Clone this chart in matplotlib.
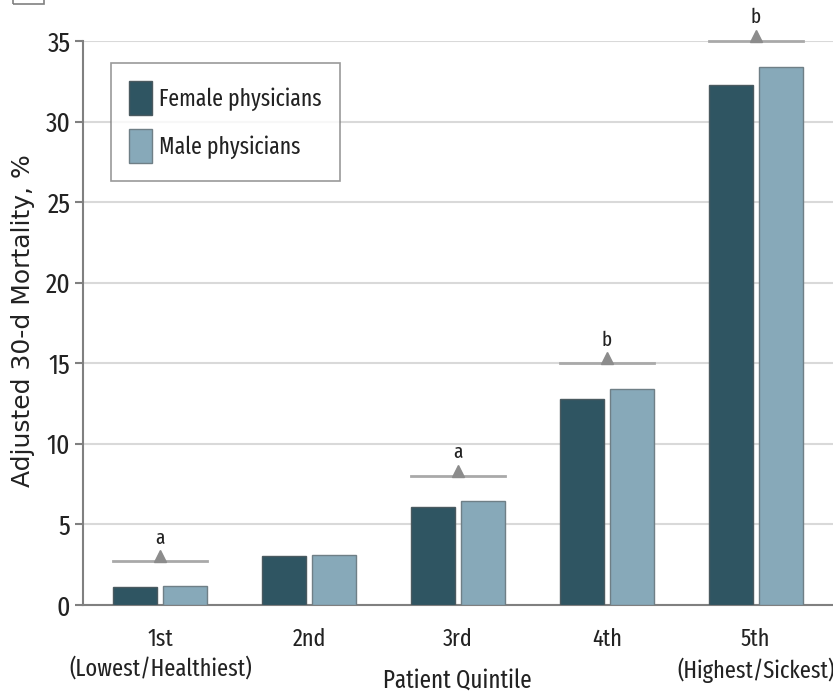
import matplotlib
matplotlib.use("Agg")
import matplotlib.pyplot as plt
import numpy as np
from matplotlib import font_manager
from matplotlib.patches import Rectangle

categories = ["1st\n(Lowest/Healthiest)", "2nd", "3rd", "4th", "5th\n(Highest/Sickest)"]
female = [1.12, 3.04, 6.1, 12.8, 32.3]
male = [1.2, 3.1, 6.45, 13.4, 33.4]
sig_levels = [2.7, None, 8.0, 15.0, 35.0]
sig_labels = ["a", None, "a", "b", "b"]
yticks = [0, 5, 10, 15, 20, 25, 30, 35]

available = {f.name for f in font_manager.fontManager.ttflist}
cond = "DejaVu Sans"
for cand in ["Fira Sans Extra Condensed", "Fira Sans Condensed", "Ubuntu Condensed", "Roboto Condensed",
             "Open Sans Condensed", "Barlow Semi Condensed", "Asap Condensed", "Archivo Narrow"]:
    if cand in available:
        cond = cand
        break
plt.rcParams['font.family'] = [cond, 'DejaVu Sans']

fig = plt.figure(figsize=(8.33, 6.95), dpi=100)
ax = fig.add_axes([0.0996, 0.1295, 0.9004, 0.8115])

x = np.arange(len(categories))
w = 0.295
off = 0.168
fc = "#2f5562"
mc = "#87a9b9"
ax.bar(x - off, female, w, color=fc, edgecolor="#4a5a60", linewidth=1.0, label="Female physicians", zorder=3)
ax.bar(x + off, male, w, color=mc, edgecolor="#6f7f86", linewidth=1.0, label="Male physicians", zorder=3)

for xi, lv, lb in zip(x, sig_levels, sig_labels):
    if lv is None:
        continue
    ax.plot([xi - off - w / 2, xi + off + w / 2], [lv, lv], color="#a9a9a9", lw=2, zorder=4, clip_on=False)
    ax.plot([xi], [lv + 0.33], marker="^", color="#8c8c8c", markersize=8, zorder=5, clip_on=False)
    ax.text(xi, lv + 0.85, lb, ha="center", va="bottom", fontsize=15, color="#222222", clip_on=False)

ax.set_xlim(-0.52, 4.52)
ax.set_ylim(0, 35)
ax.set_yticks(yticks)
ax.set_xticks(x)
ax.set_xticklabels(categories, fontsize=17.5, color="#222222", linespacing=1.33)
ax.tick_params(axis="y", labelsize=20, length=6, color="#808080", width=1.5, pad=3, labelcolor="#222222")
ax.tick_params(axis="x", length=0, pad=16)
ax.yaxis.grid(True, color="#d9d9d9", lw=1.5, zorder=0)
ax.set_axisbelow(True)
for s in ["top", "right"]:
    ax.spines[s].set_visible(False)
ax.spines["left"].set_color("#808080")
ax.spines["left"].set_linewidth(1.5)
ax.spines["bottom"].set_color("#808080")
ax.spines["bottom"].set_linewidth(1.5)

ax.set_ylabel("Adjusted 30-d Mortality, %", fontsize=18, family=['DejaVu Sans'], color="#222222")
ax.yaxis.set_label_coords(-(83 - 23) / 750, 0.5035)
ax.yaxis.label.set_verticalalignment("center")
fig.text(457 / 833, 1 - 681 / 695, "Patient Quintile", ha="center", va="center", fontsize=18, color="#222222")

leg = ax.legend(loc="upper left", bbox_to_anchor=(0.037, 0.961), fontsize=17, frameon=True,
                fancybox=False, edgecolor="#808080", handlelength=0.95, handleheight=1.8,
                borderpad=0.78, labelspacing=0.62, handletextpad=0.3, borderaxespad=0)
leg.get_frame().set_linewidth(1.2)
for t in leg.get_texts():
    t.set_color("#222222")

fig.patches.append(Rectangle((13 / 833, 1 - 4 / 695), 31 / 833, 0.02, transform=fig.transFigure,
                             fill=False, edgecolor="#808080", lw=1.2))

fig.savefig("out.png", dpi=100)
